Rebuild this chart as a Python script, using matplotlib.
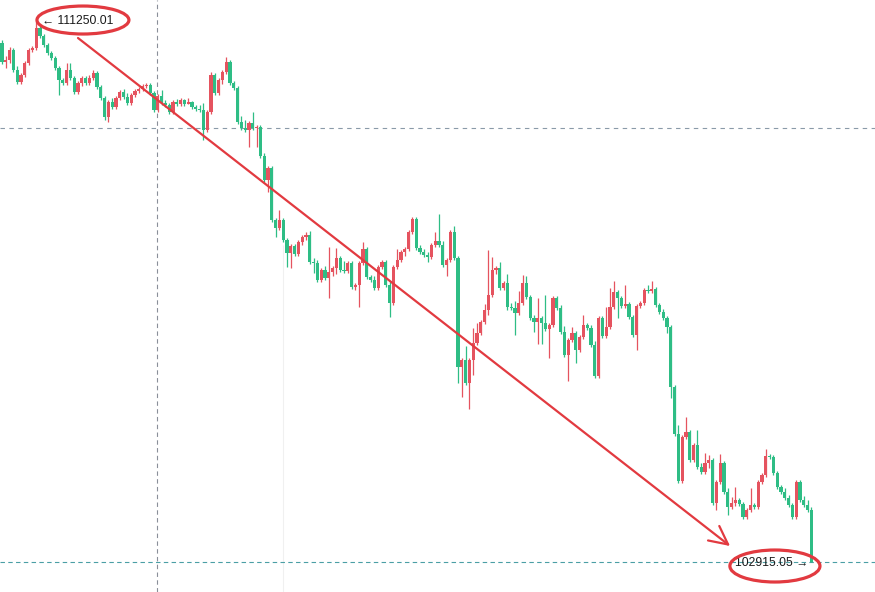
import matplotlib.pyplot as plt
from matplotlib.patches import Ellipse
import numpy as np

# candle data (one list entry per candle)
first_open = 110910
close = [
    110620, 110650, 110800, 110500, 110310, 110420, 110600, 110800, 110830, 111140,
    111020, 110880, 110760, 110680, 110530, 110340, 110300, 110500, 110370, 110160,
    110300, 110370, 110300, 110370, 110450, 110230, 110060, 109770, 110000, 109920,
    110060, 110160, 110080, 109990, 110110, 110170, 110200, 110250, 110260, 110140,
    109880, 110090, 109990, 109960, 109850, 110000, 109970, 110030, 109970, 110000,
    109920, 109890, 109880, 109570, 109850, 110420, 110140, 110340, 110460, 110620,
    110300, 110220, 109690, 109600, 109570, 109680, 109600, 109620, 109170, 108800,
    108990, 108180, 108060, 108180, 107880, 107680, 107780, 107660, 107840, 107920,
    107950, 107540, 107520, 107260, 107410, 107290, 107380, 107440, 107600, 107410,
    107400, 107520, 107150, 107180, 107520, 107740, 107310, 107260, 107140, 107460,
    107540, 107180, 106910, 107460, 107570, 107690, 107740, 108000, 108200, 107750,
    107690, 107640, 107610, 107800, 107860, 107800, 107490, 107570, 108000, 107600,
    105920, 106030, 105670, 106030, 106290, 106440, 106610, 106800, 107030, 107410,
    107440, 107140, 107210, 106840, 106830, 106750, 106910, 107210, 107000, 106670,
    106610, 106670, 106600, 106500, 106570, 106980, 106830, 106460, 106100, 106340,
    106440, 106180, 106380, 106570, 106520, 106260, 105780, 106670, 106400, 106540,
    106840, 107070, 106980, 106860, 106890, 106690, 106410, 106860, 106910, 107110,
    107090, 107120, 106870, 106770, 106670, 106540, 105610, 104890, 104160, 104840,
    104920, 104490, 104720, 104380, 104300, 104440, 104490, 103820, 104150, 104440,
    103990, 103760, 103820, 103870, 103810, 103610, 103720, 103790, 103760, 104150,
    104260, 104550, 104530, 104290, 104070, 103990, 103900, 103790, 103610, 104150,
    103870, 103790, 103720, 102915.05,
]
high = [
    110960, 110710, 110850, 110830, 110560, 110450, 110630, 110830, 110860, 111250.01,
    111170, 111050, 110910, 110790, 110710, 110560, 110370, 110600, 110600, 110400,
    110330, 110400, 110400, 110420, 110500, 110480, 110260, 110090, 110030, 110060,
    110090, 110190, 110200, 110140, 110140, 110200, 110230, 110280, 110300, 110300,
    110170, 110120, 110190, 110030, 109990, 110030, 110050, 110060, 110050, 110060,
    110020, 109960, 109960, 109990, 109880, 110460, 110450, 110370, 110500, 110700,
    110650, 110330, 110250, 109790, 109720, 109710, 109850, 109650, 109650, 109220,
    109020, 109020, 108210, 108340, 108210, 107910, 107810, 107810, 107880, 107950,
    108000, 108010, 107600, 107570, 107440, 107480, 107770, 107480, 107750, 107630,
    107550, 107550, 107550, 107210, 107550, 107840, 107770, 107340, 107320, 107490,
    107570, 107570, 107240, 107490, 107740, 107720, 107770, 108030, 108230, 108230,
    107800, 107740, 107690, 107830, 108000, 108280, 107860, 107600, 108030, 108090,
    107630, 106060, 106240, 106060, 106520, 106600, 106640, 106890, 107720, 107610,
    107480, 107540, 107240, 107350, 106910, 106940, 107090, 107340, 107320, 107030,
    106720, 106980, 106700, 107030, 106600, 107010, 107010, 106870, 106550, 106370,
    106540, 106470, 106410, 106720, 106600, 106570, 106320, 106700, 106700, 106840,
    107140, 107240, 107110, 107010, 107180, 106920, 106720, 106890, 106940, 107140,
    107180, 107240, 107150, 106910, 106810, 106700, 106570, 105640, 105030, 104870,
    105150, 104950, 104750, 104950, 104440, 104590, 104560, 104520, 104180, 104580,
    104470, 104050, 103920, 104070, 103900, 103840, 103750, 104050, 103820, 104180,
    104290, 104660, 104580, 104560, 104320, 104100, 104050, 103940, 103820, 104180,
    104180, 103930, 103870, 103760,
]
low = [
    110590, 110530, 110600, 110460, 110280, 110280, 110390, 110570, 110770, 110800,
    110990, 110850, 110730, 110650, 110500, 110110, 110260, 110260, 110340, 110130,
    110130, 110250, 110260, 110260, 110340, 110200, 110030, 109720, 109690, 109890,
    109890, 110030, 110050, 109960, 109960, 110080, 110140, 110170, 110220, 110110,
    109850, 109850, 109960, 109920, 109820, 109820, 109940, 109940, 109940, 109970,
    109890, 109860, 109850, 109420, 109540, 109820, 110110, 110110, 110280, 110430,
    110260, 110190, 109660, 109570, 109540, 109310, 109570, 109310, 109140, 108770,
    108620, 108150, 107920, 108030, 107840, 107460, 107440, 107630, 107630, 107800,
    107880, 107510, 107370, 107230, 107230, 107260, 106980, 107320, 107350, 107380,
    107370, 107370, 107120, 107110, 106840, 107490, 107280, 107230, 107110, 107110,
    107430, 107150, 106690, 106870, 107430, 107540, 107630, 107710, 107970, 107720,
    107660, 107610, 107540, 107580, 107770, 107770, 107460, 107320, 107540, 107570,
    105670, 105460, 105640, 105270, 105800, 106260, 106410, 106580, 106720, 107000,
    107350, 107110, 107110, 106800, 106800, 106410, 106720, 106870, 106970, 106640,
    106460, 106270, 106270, 106470, 106060, 106540, 106800, 106430, 106070, 105700,
    106300, 105980, 106150, 106350, 106490, 106230, 105750, 105750, 106370, 106370,
    106500, 106810, 106670, 106830, 106830, 106660, 106380, 106180, 106830, 106870,
    107060, 107060, 106840, 106740, 106640, 106440, 105440, 104860, 104130, 104130,
    104810, 104460, 104460, 104350, 104270, 104270, 104360, 103790, 103720, 104120,
    103960, 103640, 103730, 103780, 103780, 103580, 103580, 103690, 103730, 103730,
    104120, 104220, 104500, 104260, 104040, 103960, 103870, 103760, 103580, 103580,
    103840, 103760, 103690, 102915.05,
]

top_label = "← 111250.01"
bottom_label = "102915.05 →"

up_color = "#e5535f"
down_color = "#2ebd85"
mark_color = "#e23a40"

opens = np.array([first_open] + close[:-1], dtype=float)
closes = np.array(close, dtype=float)
highs = np.maximum(np.array(high, dtype=float), np.maximum(opens, closes))
lows = np.minimum(np.array(low, dtype=float), np.minimum(opens, closes))
idx = np.arange(len(closes))
colors = np.where(closes >= opens, up_color, down_color)

fig = plt.figure(figsize=(8.75, 5.92), dpi=100)
ax = fig.add_axes([0, 0, 1, 1])
ax.set_axis_off()

step = 3.8  # pixels per candle
ax.set_xlim(-2 / step, (875 - 2) / step)
ax.set_ylim(102452.6, 111573.5)

# crosshair + last price line
ax.axvline(40.8, color="#8a8f99", lw=0.8, dashes=(4, 3), zorder=1)
ax.axhline(109601, color="#8a9aa8", lw=0.8, dashes=(4, 4), zorder=1)
ax.axhline(closes[-1], color="#4a9fa5", lw=0.8, dashes=(4, 3), zorder=1)
ax.vlines(73.95, 102452.6, 107800, color="#f0f0f0", lw=0.8, zorder=0)

# candles
ax.vlines(idx, lows, highs, colors=colors, lw=0.9, zorder=2)
body = np.maximum(np.abs(closes - opens), 15)
ax.bar(idx, body, bottom=np.minimum(opens, closes), width=0.86,
       color=colors, linewidth=0, zorder=3)

# trend arrow
ax.annotate("", xy=(191.6, 103161), xytext=(20.0, 110988),
            arrowprops=dict(arrowstyle="->,head_length=0.6,head_width=0.3",
                            color=mark_color, lw=1.6, mutation_scale=22,
                            shrinkA=0, shrinkB=0), zorder=4)

# high / low labels
font = ["Liberation Sans", "DejaVu Sans"]
hi_i = int(np.argmax(highs))
lo_i = int(np.argmin(lows))
ax.annotate(top_label, xy=(hi_i, highs[hi_i]), xytext=(4, 0),
            textcoords="offset points", ha="left", va="center",
            fontsize=8.7, color="#1a1a1a", family=font, zorder=5)
ax.annotate(bottom_label, xy=(lo_i, lows[lo_i]), xytext=(-2.5, -1),
            textcoords="offset points", ha="right", va="center",
            fontsize=8.7, color="#1a1a1a", family=font, zorder=5)

ax.add_patch(Ellipse((21.3, 111265), 24.2, 431, fill=False,
                     ec=mark_color, lw=2.3, zorder=5))
ax.add_patch(Ellipse((203.4, 102853), 23.7, 493, fill=False,
                     ec=mark_color, lw=2.3, zorder=5))

fig.savefig("out.png", dpi=100, facecolor="white")
